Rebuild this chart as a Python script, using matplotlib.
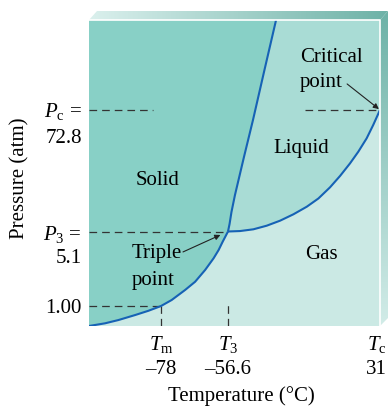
"""CO2 phase diagram (schematic)."""

import matplotlib
matplotlib.use('Agg')
import matplotlib.pyplot as plt
import numpy as np
from matplotlib.colors import LinearSegmentedColormap
from matplotlib.patches import Polygon

plt.rcParams['font.family'] = ['Liberation Serif', 'DejaVu Serif']
plt.rcParams['font.size'] = 15
plt.rcParams['mathtext.fontset'] = 'custom'
plt.rcParams['mathtext.rm'] = 'Liberation Serif'
plt.rcParams['mathtext.it'] = 'Liberation Serif:italic'
plt.rcParams['lines.scale_dashes'] = False

# key points
T_m, T_3, T_c = -78, -56.6, 31
P_1, P_3, P_c = 1.00, 5.1, 72.8
T_lim = (-100, 31)
P_lim = (0.646, 520)

# schematic temperature axis: anchor temps and their relative positions
T_anchor = [-100, -78, -56.6, 31]
x_anchor = [0, 72, 139, 291]

# phase boundaries
sub_T = [-100, -95.1, -91.0, -85.9, -81.8, -78, -74.6, -70.3, -67.1,
         -63.9, -61.2, -59.6, -58.3, -56.6]
sub_P = [0.646, 0.685, 0.736, 0.821, 0.902, 1.0, 1.14, 1.42, 1.70,
         2.20, 2.84, 3.40, 4.08, 5.1]
melt_T = [-56.6, -55.7, -54.6, -52.6, -47.4, -42.2, -35.6, -28.9]
melt_P = [5.1, 6.01, 7.81, 11.3, 26.0, 58.4, 174, 520]
vap_T = [-56.6, -49.7, -42.0, -34.3, -26.6, -18.9, -11.2, -4.5, 2.2,
         8.0, 13.7, 18.5, 23.3, 27.1, 31]
vap_P = [5.1, 5.15, 5.35, 5.79, 6.46, 7.43, 8.77, 10.5, 13.4,
         17.2, 22.6, 29.2, 39.1, 52.4, 72.8]

c_solid = '#88d0c6'
c_liquid = '#a9dcd5'
c_gas = '#cbe9e4'
c_line = '#1662b5'

fig = plt.figure(figsize=(3.88, 4.07), dpi=100)

# bevelled frame behind the plot (pixel coords)
bg = fig.add_axes([0, 0, 1, 1], zorder=-1)
bg.axis('off')
cm_top = LinearSegmentedColormap.from_list('top', ['#dbf0ed', '#6db2a7'])
cm_side = LinearSegmentedColormap.from_list('side', ['#6db2a7', '#d2ece8'])
top_poly = Polygon([(89, 20), (97, 11), (388, 11), (380, 20)], closed=True,
                   transform=bg.transData, facecolor='none', edgecolor='none')
side_poly = Polygon([(380, 20), (388, 11), (388, 318), (380, 326)], closed=True,
                    transform=bg.transData, facecolor='none', edgecolor='none')
bg.add_patch(top_poly)
bg.add_patch(side_poly)
im = bg.imshow(np.linspace(0, 1, 256).reshape(1, -1), cmap=cm_top,
               extent=(89, 388, 20, 11), aspect='auto')
im.set_clip_path(top_poly)
im = bg.imshow(np.linspace(0, 1, 256).reshape(-1, 1), cmap=cm_side,
               extent=(380, 388, 326, 11), aspect='auto')
im.set_clip_path(side_poly)
bg.set_xlim(0, 388)
bg.set_ylim(407, 0)

ax = fig.add_axes([89 / 388, 81 / 407, 291 / 388, 306 / 407])
ax.set_facecolor(c_gas)
ax.set_xscale('function', functions=(
    lambda t: np.interp(t, T_anchor, x_anchor),
    lambda x: np.interp(x, x_anchor, T_anchor),
))
ax.set_yscale('log')
ax.set_xlim(*T_lim)
ax.set_ylim(*P_lim)
ax.set_xticks([])
ax.set_yticks([])
ax.set_yticks([], minor=True)
ax.set_xticks([], minor=True)
for s in ax.spines.values():
    s.set_visible(False)

# regions
ax.fill(sub_T + melt_T[1:] + [T_lim[0]],
        sub_P + melt_P[1:] + [P_lim[1]], color=c_solid, lw=0)
ax.fill(melt_T + [T_lim[1]] + vap_T[::-1],
        melt_P + [P_lim[1]] + vap_P[::-1], color=c_liquid, lw=0)

# boundaries
for T, P in [(sub_T, sub_P), (melt_T, melt_P), (vap_T, vap_P)]:
    ax.plot(T, P, color=c_line, lw=1.5, solid_capstyle='butt',
            solid_joinstyle='round', zorder=3)

# white edge between face and bevel
ax.plot([0, 1, 1], [1, 1, 0], transform=ax.transAxes, color='white',
        lw=1.2, clip_on=False, zorder=4)

# dashed guides
dash = dict(color='#333333', lw=0.9, linestyle=(0, (5.5, 3.6)), zorder=2)
ytr = ax.get_yaxis_transform()
xtr = ax.get_xaxis_transform()
ax.plot([0, 0.22], [P_c, P_c], transform=ytr, **dash)
ax.plot([0.742, 1.0], [P_c, P_c], transform=ytr, **dash)
ax.plot([T_lim[0], T_3], [P_3, P_3], **dash)
ax.plot([T_lim[0], T_m], [P_1, P_1], **dash)
ax.plot([T_m, T_m], [P_lim[0], P_1], **dash)
ax.plot([T_3, T_3], [0, 0.078], transform=xtr, **dash)

PX = 0.72  # points per pixel


def ylab(s, p, dy):
    ax.annotate(s, xy=(0, p), xycoords=ytr, xytext=(-7 * PX, -dy * PX),
                textcoords='offset points', ha='right', va='baseline')


def xlab(s, t, dy, dx=0):
    ax.annotate(s, xy=(t, 0), xycoords=xtr, xytext=(dx * PX, -dy * PX),
                textcoords='offset points', ha='center', va='baseline')


ylab(r'$P_\mathrm{c}$ =', P_c, 7)
ylab('72.8', P_c, 33)
ylab(r'$P_3$ =', P_3, 8)
ylab('5.1', P_3, 31)
ylab('1.00', P_1, 7)

xlab(r'$T_\mathrm{m}$', T_m, 24)
xlab('\u201378', T_m, 48)
xlab(r'$T_3$', T_3, 24)
xlab('\u201356.6', T_3, 48)
xlab(r'$T_\mathrm{c}$', T_c, 24, dx=-3)
xlab('31', T_c, 48, dx=-4)

fig.text(241 / 388, 6 / 407, 'Temperature (\u00b0C)', ha='center', va='baseline')
fig.text(20 / 388, 229 / 407, 'Pressure (atm)', rotation=90,
         ha='center', va='center')

# region labels
ax.text(0.235, 0.461, 'Solid', transform=ax.transAxes, ha='center', va='baseline')
ax.text(0.730, 0.565, 'Liquid', transform=ax.transAxes, ha='center', va='baseline')
ax.text(0.799, 0.219, 'Gas', transform=ax.transAxes, ha='center', va='baseline')
ax.text(0.725, 0.863, 'Critical', transform=ax.transAxes, ha='left', va='baseline')
ax.text(0.725, 0.781, 'point', transform=ax.transAxes, ha='left', va='baseline')
ax.text(0.147, 0.222, 'Triple', transform=ax.transAxes, ha='left', va='baseline')
ax.text(0.147, 0.134, 'point', transform=ax.transAxes, ha='left', va='baseline')

arrow = dict(arrowstyle='-|>', color='#222222', lw=0.8, mutation_scale=8,
             shrinkA=0, shrinkB=1)
ax.annotate('', xy=(T_c, P_c), xytext=(0.887, 0.791),
            textcoords='axes fraction', arrowprops=arrow, annotation_clip=False)
ax.annotate('', xy=(T_3, P_3), xytext=(0.323, 0.242),
            textcoords='axes fraction',
            arrowprops=dict(arrow, shrinkB=6), annotation_clip=False)

fig.savefig('out.png', dpi=100)
